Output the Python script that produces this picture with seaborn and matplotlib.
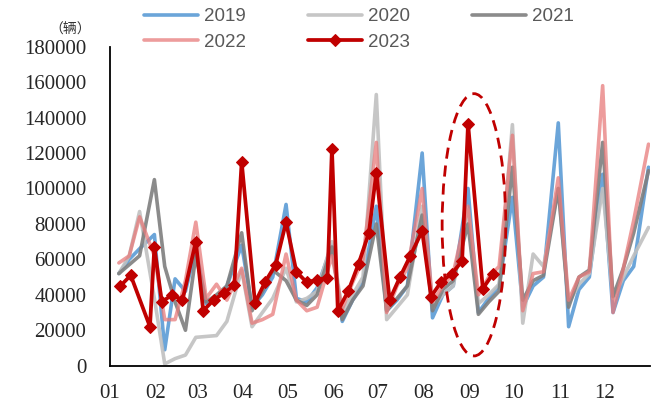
import pandas as pd
import seaborn as sns
import matplotlib
matplotlib.use("Agg")
import matplotlib.pyplot as plt
import matplotlib.dates as mdates
from matplotlib.patches import Ellipse
from matplotlib.ticker import FuncFormatter

# weekly points used for 2019-2022 (week ends + month end)
week_dates = [
    "01-07", "01-14", "01-21", "01-31", "02-07", "02-14", "02-21", "02-28",
    "03-07", "03-14", "03-21", "03-31", "04-07", "04-14", "04-21", "04-30",
    "05-07", "05-14", "05-21", "05-31", "06-07", "06-14", "06-21", "06-30",
    "07-07", "07-14", "07-21", "07-31", "08-07", "08-14", "08-21", "08-31",
    "09-07", "09-14", "09-21", "09-30", "10-07", "10-14", "10-21", "10-31",
    "11-07", "11-14", "11-21", "11-30", "12-07", "12-14", "12-21", "12-31",
]

sales_2019 = [52000, 60000, 66000, 74000, 9000, 49000, 42000, 66000,
              35000, 38000, 45000, 68000, 33000, 40000, 50000, 91000,
              38000, 36000, 44000, 68000, 25000, 37000, 47000, 90000,
              31000, 37000, 45000, 120000, 27000, 40000, 45000, 100000,
              30000, 38000, 45000, 95000, 33000, 45000, 50000, 137000,
              22000, 43000, 50000, 108000, 30000, 48000, 56000, 112000]

sales_2020 = [52000, 62000, 87000, 38000, 1000, 4000, 6000, 16000,
              16500, 17000, 25000, 54000, 22000, 30000, 38000, 55000,
              36000, 38000, 42000, 70000, 30000, 40000, 50000, 153000,
              26000, 33000, 40000, 90000, 33000, 40000, 45000, 88000,
              35000, 40000, 46000, 136000, 24000, 63000, 56000, 100000,
              35000, 46000, 52000, 100000, 38000, 50000, 62000, 78000]

sales_2021 = [52000, 57000, 62000, 105000, 56000, 36000, 20000, 62000,
              36000, 40000, 45000, 75000, 31000, 42000, 54000, 48000,
              37000, 34000, 40000, 67000, 26000, 37000, 45000, 80000,
              31000, 38000, 45000, 85000, 31000, 43000, 48000, 80000,
              29000, 36000, 42000, 112000, 37000, 48000, 51000, 100000,
              33000, 50000, 54000, 126000, 39000, 55000, 75000, 110000]

sales_2022 = [58000, 62000, 84000, 62000, 26000, 26000, 48000, 81000,
              38000, 46000, 37000, 55000, 24000, 26000, 29000, 63000,
              37000, 31000, 33000, 62000, 32000, 47000, 60000, 126000,
              30000, 45000, 55000, 100000, 36000, 45000, 52000, 90000,
              40000, 50000, 56000, 130000, 31000, 52000, 53000, 106000,
              37000, 50000, 53000, 158000, 30000, 55000, 82000, 125000]

dates_2023 = [
    "01-08", "01-15", "01-28", "01-31", "02-05", "02-12", "02-19", "02-28",
    "03-05", "03-12", "03-19", "03-26", "03-31", "04-09", "04-16", "04-23",
    "04-30", "05-07", "05-14", "05-21", "05-28", "05-31", "06-04", "06-11",
    "06-18", "06-25", "06-30", "07-09", "07-16", "07-23", "07-31", "08-06",
    "08-13", "08-20", "08-27", "08-31", "09-10", "09-17",
]
sales_2023 = [45000, 51000, 22000, 67000, 36000, 40000, 37000, 70000,
              31000, 37000, 41000, 45500, 115000, 35500, 47500, 57000,
              81000, 53000, 47000, 48500, 49500, 122500, 31000, 42000,
              57500, 75000, 109000, 37000, 50000, 62000, 76000, 39000,
              47500, 52000, 59000, 136500, 43500, 52000]

month_labels = ["01", "02", "03", "04", "05", "06",
                "07", "08", "09", "10", "11", "12"]

COLORS = {"2019": "#5B9BD5", "2020": "#C0C0C0", "2021": "#7F7F7F",
          "2022": "#E77B7B", "2023": "#C00000"}


def to_dates(days):
    return pd.to_datetime(["2023-" + d for d in days])


def main():
    sns.set_style("white")
    plt.rcParams["font.family"] = ["Liberation Serif", "DejaVu Sans"]

    fig = plt.figure(figsize=(6.51, 4.07), dpi=100)
    ax = fig.add_axes([110 / 651, 1 - 365.7 / 407, 540 / 651, 319 / 407])

    x = to_dates(week_dates)
    sns.lineplot(x=x, y=sales_2019, color=COLORS["2019"], lw=2.6, alpha=0.9, label="2019", ax=ax)
    sns.lineplot(x=x, y=sales_2020, color=COLORS["2020"], lw=2.6, alpha=0.9, label="2020", ax=ax)
    sns.lineplot(x=x, y=sales_2021, color=COLORS["2021"], lw=2.6, alpha=0.9, label="2021", ax=ax)
    sns.lineplot(x=x, y=sales_2022, color=COLORS["2022"], lw=2.6, alpha=0.75, label="2022", ax=ax)
    sns.lineplot(x=to_dates(dates_2023), y=sales_2023, color=COLORS["2023"], lw=2.7,
                 marker="D", markersize=6.5, markeredgecolor=COLORS["2023"],
                 label="2023", ax=ax)

    # dashed ellipse around end of August
    centre = mdates.date2num(pd.Timestamp("2023-09-04"))
    ax.add_patch(Ellipse((centre, 79500), width=43, height=148000, fill=False,
                         edgecolor=COLORS["2023"], lw=2, linestyle=(0, (4, 2.5)), zorder=5))

    month_starts = pd.date_range("2023-01-01", "2024-01-01", freq="MS")
    ax.set_xlim(month_starts[0], month_starts[-1])
    ax.set_xticks(month_starts)
    ax.set_xticklabels(month_labels + [""])
    ax.set_ylim(0, 180000)
    ax.set_yticks(range(0, 180001, 20000))
    ax.yaxis.set_major_formatter(FuncFormatter(lambda v, p: f"{int(v)}"))
    ax.set_xlabel("")
    ax.set_ylabel("")

    for side in ["top", "right"]:
        ax.spines[side].set_visible(False)
    for side in ["left", "bottom"]:
        ax.spines[side].set_color("black")
        ax.spines[side].set_linewidth(1.3)
    ax.tick_params(axis="both", direction="out", length=5, width=1.3, color="black",
                   labelsize=15, labelcolor="#262626")
    ax.tick_params(axis="y", pad=12)
    ax.tick_params(axis="x", pad=8)

    # legend laid out row-wise: 2019 2020 2021 / 2022 2023
    handles, labels = ax.get_legend_handles_labels()
    ax.get_legend().remove()
    order = [0, 3, 1, 4, 2]
    fig.legend([handles[i] for i in order], [labels[i] for i in order],
               loc="upper left", bbox_to_anchor=(144 / 651, 1 - 8 / 407), ncol=3,
               frameon=False, borderpad=0, borderaxespad=0, handlelength=2.9,
               handletextpad=0.3, columnspacing=3.3, labelspacing=0.45,
               prop={"family": "Liberation Sans", "size": 13.5}, labelcolor="#595959")

    fig.text(70 / 651, 1 - 30 / 407, "（辆）", fontsize=10, ha="center", va="center",
             family=["Noto Sans CJK SC", "DejaVu Sans"], color="#333333")

    fig.savefig("out.png", dpi=100)


if __name__ == "__main__":
    main()
